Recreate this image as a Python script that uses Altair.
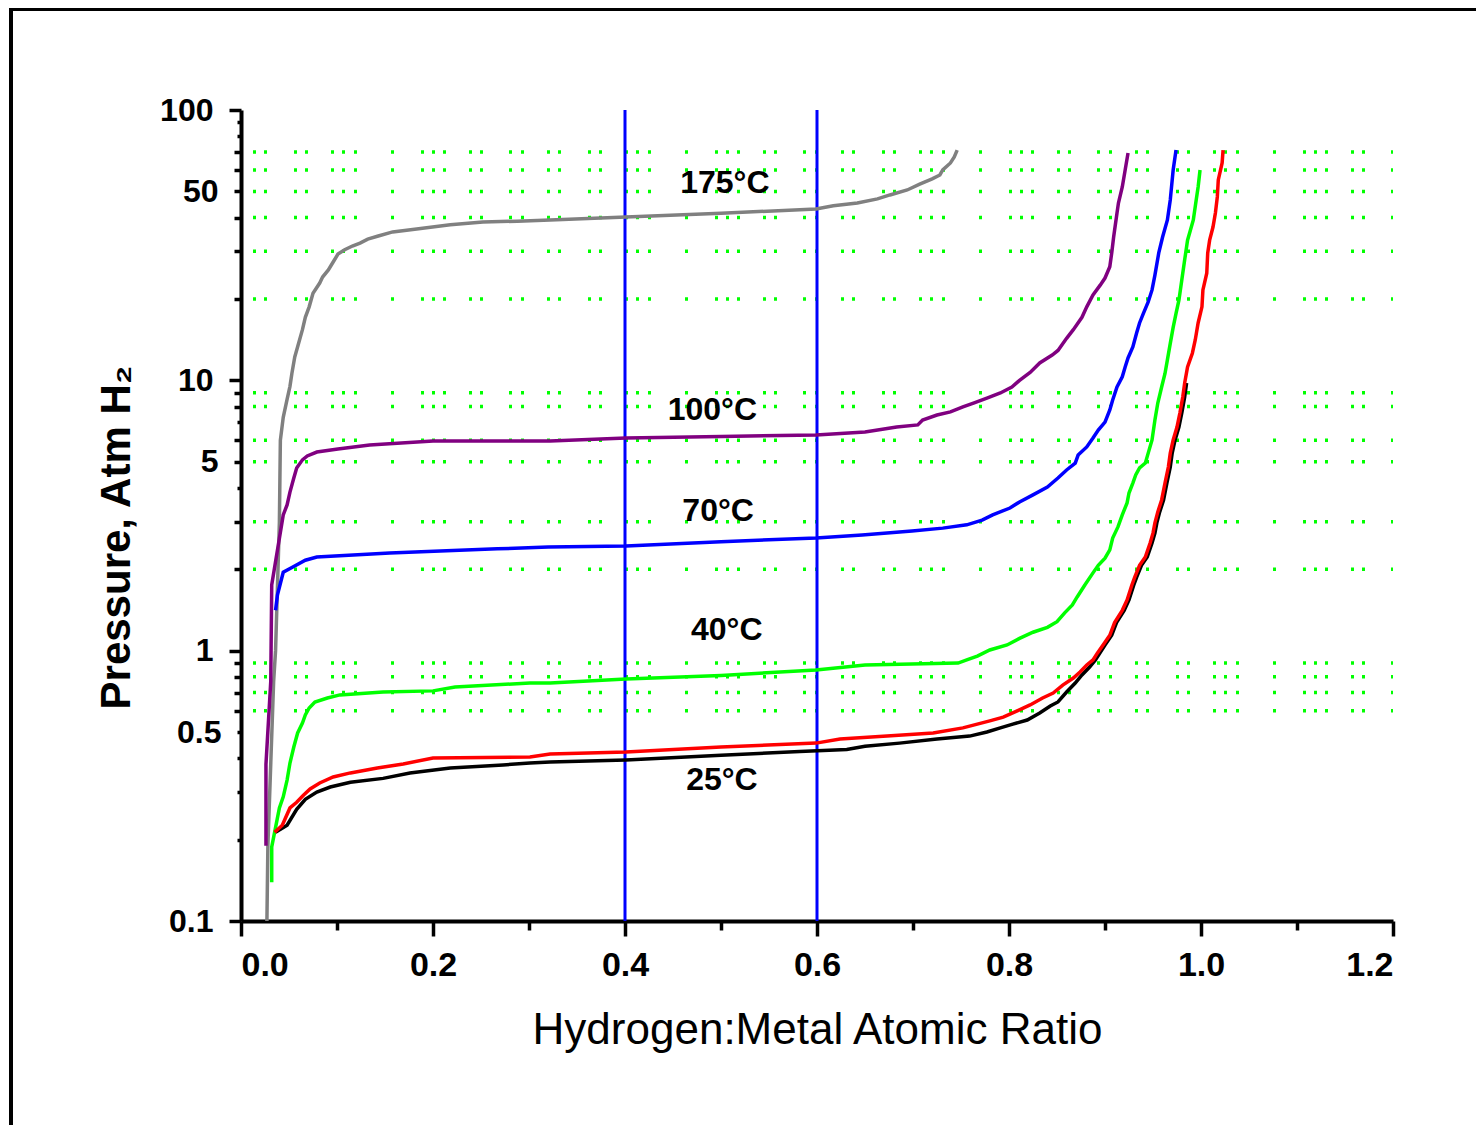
import altair as alt
import pandas as pd

# ---------------- data ----------------
gray_x = [0.027, 0.028, 0.034, 0.036, 0.040, 0.041, 0.044, 0.048, 0.051, 0.053,
          0.056, 0.059, 0.064, 0.067, 0.071, 0.075, 0.082, 0.085, 0.091, 0.096,
          0.101, 0.108, 0.116, 0.124, 0.132, 0.143, 0.158, 0.183, 0.218, 0.252,
          0.288, 0.322, 0.401, 0.500, 0.599, 0.617, 0.642, 0.663, 0.676, 0.694,
          0.707, 0.720, 0.728, 0.731, 0.739, 0.743, 0.746]
gray_p = [0.10, 0.19, 0.77, 1.0, 3.0, 6.0, 7.3, 8.5, 9.5, 10.6,
          12.2, 13.3, 15.4, 17.1, 18.7, 21.0, 22.9, 24.1, 25.6, 27.4,
          29.3, 30.4, 31.4, 32.2, 33.3, 34.2, 35.4, 36.3, 37.6, 38.5,
          38.8, 39.2, 40.2, 41.5, 43.0, 44.2, 45.3, 46.9, 48.5, 50.6,
          53.2, 55.6, 57.5, 60.0, 63.7, 67.0, 71.1]

purple_x = [0.026, 0.026, 0.031, 0.032, 0.044, 0.048, 0.051, 0.055, 0.058, 0.064,
            0.069, 0.079, 0.101, 0.134, 0.200, 0.322, 0.401, 0.500, 0.599, 0.650,
            0.683, 0.705, 0.710, 0.725, 0.739, 0.752, 0.763, 0.777, 0.791, 0.803,
            0.811, 0.822, 0.832, 0.845, 0.851, 0.860, 0.867, 0.876, 0.881, 0.8875,
            0.895, 0.900, 0.905, 0.907, 0.909, 0.9125, 0.914, 0.918, 0.921, 0.924]
purple_p = [0.19, 0.38, 0.77, 1.75, 3.18, 3.46, 3.86, 4.35, 4.74, 5.08,
            5.25, 5.43, 5.57, 5.77, 5.97, 5.97, 6.12, 6.2, 6.28, 6.44,
            6.72, 6.84, 7.13, 7.44, 7.64, 7.97, 8.24, 8.60, 8.98, 9.45,
            10.0, 10.7, 11.6, 12.4, 12.9, 14.3, 15.4, 17.1, 18.7, 20.7,
            22.5, 23.9, 26.3, 29.6, 33.9, 41.6, 45.3, 51.9, 60.0, 69.3]

blue_x = [0.036, 0.038, 0.044, 0.054, 0.067, 0.079, 0.155, 0.267, 0.320, 0.401,
          0.500, 0.599, 0.647, 0.699, 0.731, 0.756, 0.772, 0.783, 0.801, 0.811,
          0.825, 0.840, 0.851, 0.860, 0.869, 0.872, 0.881, 0.8875, 0.893, 0.900,
          0.905, 0.908, 0.9125, 0.918, 0.921, 0.924, 0.929, 0.933, 0.936, 0.940,
          0.945, 0.949, 0.952, 0.956, 0.960, 0.965, 0.968, 0.971, 0.974]
blue_p = [1.41, 1.61, 1.95, 2.04, 2.16, 2.22, 2.30, 2.38, 2.42, 2.44,
          2.53, 2.61, 2.68, 2.77, 2.84, 2.92, 3.04, 3.18, 3.37, 3.55,
          3.77, 4.03, 4.35, 4.66, 4.94, 5.29, 5.67, 6.12, 6.55, 7.01,
          7.77, 8.46, 9.45, 10.3, 11.2, 12.1, 13.3, 15.0, 16.3, 17.7,
          19.5, 21.6, 24.5, 29.6, 33.9, 39.2, 46.5, 60.0, 71.1]

green_x = [0.032, 0.032, 0.0375, 0.040, 0.044, 0.048, 0.051, 0.055, 0.059, 0.064,
           0.067, 0.071, 0.077, 0.090, 0.103, 0.148, 0.200, 0.223, 0.301, 0.322,
           0.401, 0.500, 0.599, 0.650, 0.747, 0.756, 0.767, 0.780, 0.798, 0.811,
           0.825, 0.840, 0.850, 0.858, 0.866, 0.871, 0.879, 0.8875, 0.893, 0.900,
           0.905, 0.908, 0.9135, 0.918, 0.923, 0.925, 0.929, 0.932, 0.936, 0.942,
           0.945, 0.949, 0.952, 0.955, 0.959, 0.9625, 0.965, 0.968, 0.971, 0.974,
           0.977, 0.980, 0.983, 0.986, 0.992, 0.995, 0.997, 0.999]
green_p = [0.139, 0.188, 0.236, 0.262, 0.288, 0.332, 0.384, 0.440, 0.496, 0.540,
           0.578, 0.614, 0.646, 0.668, 0.686, 0.703, 0.710, 0.734, 0.759, 0.759,
           0.785, 0.81, 0.848, 0.885, 0.900, 0.924, 0.955, 1.006, 1.05, 1.11,
           1.17, 1.22, 1.28, 1.38, 1.476, 1.58, 1.75, 1.94, 2.07, 2.20,
           2.36, 2.61, 2.87, 3.18, 3.52, 3.83, 4.17, 4.47, 4.74, 4.94,
           5.38, 6.02, 7.13, 8.24, 9.45, 10.6, 11.9, 13.7, 15.7, 17.7,
           19.8, 23.5, 27.9, 33.0, 39.2, 46.5, 51.9, 60.0]

black_x = [0.036, 0.048, 0.058, 0.067, 0.079, 0.093, 0.114, 0.148, 0.176, 0.218,
           0.273, 0.301, 0.322, 0.401, 0.500, 0.582, 0.631, 0.650, 0.686, 0.725,
           0.759, 0.777, 0.791, 0.804, 0.819, 0.832, 0.843, 0.851, 0.860, 0.869,
           0.876, 0.884, 0.890, 0.900, 0.907, 0.912, 0.920, 0.925, 0.930, 0.933,
           0.938, 0.944, 0.949, 0.952, 0.954, 0.957, 0.961, 0.9645, 0.968, 0.970,
           0.973, 0.977, 0.980, 0.983, 0.985]
black_p = [0.213, 0.226, 0.259, 0.282, 0.300, 0.313, 0.326, 0.337, 0.353, 0.368,
           0.378, 0.384, 0.387, 0.394, 0.41, 0.424, 0.431, 0.443, 0.455, 0.471,
           0.483, 0.50, 0.518, 0.535, 0.554, 0.588, 0.624, 0.646, 0.703, 0.759,
           0.813, 0.870, 0.924, 1.05, 1.14, 1.27, 1.41, 1.54, 1.75, 1.87,
           2.07, 2.22, 2.50, 2.72, 2.97, 3.26, 3.61, 4.17, 4.78, 5.38,
           6.02, 6.72, 7.57, 8.68, 9.78]

red_x = [0.035, 0.043, 0.051, 0.058, 0.065, 0.072, 0.082, 0.096, 0.114, 0.142,
         0.169, 0.200, 0.301, 0.322, 0.401, 0.500, 0.599, 0.624, 0.673, 0.721,
         0.752, 0.767, 0.780, 0.794, 0.808, 0.822, 0.835, 0.846, 0.856, 0.867,
         0.874, 0.881, 0.8875, 0.892, 0.898, 0.905, 0.910, 0.918, 0.923, 0.928,
         0.931, 0.936, 0.942, 0.947, 0.950, 0.952, 0.955, 0.959, 0.9625, 0.966,
         0.968, 0.971, 0.975, 0.978, 0.981, 0.983, 0.986, 0.991, 0.994, 0.997,
         1.001, 1.002, 1.006, 1.007, 1.009, 1.0125, 1.015, 1.017, 1.018, 1.022,
         1.023]
red_p = [0.213, 0.226, 0.262, 0.275, 0.292, 0.308, 0.324, 0.341, 0.353, 0.368,
         0.381, 0.401, 0.404, 0.415, 0.422, 0.44, 0.455, 0.471, 0.483, 0.496,
         0.518, 0.535, 0.550, 0.568, 0.598, 0.630, 0.668, 0.697, 0.746, 0.792,
         0.834, 0.885, 0.924, 0.979, 1.05, 1.14, 1.27, 1.41, 1.54, 1.75,
         1.87, 2.07, 2.22, 2.50, 2.72, 2.97, 3.26, 3.61, 4.17, 4.78,
         5.38, 6.02, 6.72, 7.57, 8.68, 9.78, 11.2, 12.6, 14.1, 16.3,
         18.7, 21.6, 24.9, 29.6, 33.0, 36.9, 41.6, 47.7, 55.1, 63.7,
         71.1]

series_names = ["175C", "100C", "70C", "40C", "25C desorption", "25C absorption"]
series_x = [gray_x, purple_x, blue_x, green_x, black_x, red_x]
series_p = [gray_p, purple_p, blue_p, green_p, black_p, red_p]
series_colors = ["#808080", "#800080", "#0000FF", "#00FF00", "#000000", "#FF0000"]

label_text = ["175°C", "100°C", "70°C", "40°C", "25°C"]
label_x = [0.504, 0.491, 0.497, 0.506, 0.501]
label_p = [53.7, 7.77, 3.29, 1.19, 0.332]

grid_p = [70, 60, 50, 40, 30, 20, 9, 8, 6, 5, 3, 2, 0.9, 0.8, 0.7, 0.6]
marker_x = [0.4, 0.6]

y_tick_values = [0.1, 0.2, 0.3, 0.4, 0.5, 0.6, 0.7, 0.8, 0.9,
                 1, 2, 3, 4, 5, 6, 7, 8, 9,
                 10, 20, 30, 40, 50, 60, 70, 80, 90, 100]
y_label_values = [100, 50, 10, 5, 1, 0.5, 0.1]
y_major = [0.1, 1, 10, 100]
x_tick_values = [0.0, 0.1, 0.2, 0.3, 0.4, 0.5, 0.6, 0.7, 0.8, 0.9, 1.0, 1.1, 1.2]
x_label_values = [0.0, 0.2, 0.4, 0.6, 0.8, 1.0, 1.2]

FONT = "Liberation Sans"

# irregular dotted pattern of the green grid rows (rules are stroked right to left)
GRID_DASH = [0, 23, 3, 9, 3, 26, 3, 8, 3, 23, 3, 8, 3, 8, 3, 27, 3, 34,
             3, 9, 3, 8, 3, 23, 3, 8, 3, 27, 3, 8, 3, 0]
GRID_DASH_OFFSET = 36


def js_list(vals):
    return "[" + ",".join(repr(float(v)) for v in vals) + "]"


y_label_expr = ("indexof(" + js_list(y_label_values) + ", datum.value) >= 0 ? "
                "toString(datum.value) : ''")
y_tick_cond = {
    "condition": [
        {"test": "indexof(" + js_list(y_major) + ", datum.value) >= 0", "value": 12},
        {"test": "indexof(" + js_list(grid_p) + ", datum.value) >= 0", "value": 7},
    ],
    "value": 4,
}
x_label_expr = ("indexof(" + js_list(x_label_values) + ", datum.value) >= 0 ? "
                "format(datum.value, '.1f') : ''")
x_tick_cond = {
    "condition": {"test": "indexof(" + js_list(x_label_values) + ", datum.value) >= 0",
                  "value": 15},
    "value": 9,
}

x_enc = alt.X(
    "x:Q",
    scale=alt.Scale(domain=[0, 1.2], nice=False, zero=False),
    axis=alt.Axis(
        values=x_tick_values, labelExpr=x_label_expr, tickSize=x_tick_cond,
        tickWidth=3.5, tickColor="black", domainColor="black", domainWidth=4,
        labelFont=FONT, labelFontSize=34, labelFontWeight="bold", labelColor="black",
        labelPadding=12, labelOverlap=False, grid=False,
        title="Hydrogen:Metal Atomic Ratio", titleFont=FONT, titleFontSize=44,
        titleFontWeight="normal", titleColor="black", titleBaseline="alphabetic",
        titleY=122,
    ),
)
y_enc = alt.Y(
    "p:Q",
    scale=alt.Scale(type="log", domain=[0.1, 100], nice=False),
    axis=alt.Axis(
        values=y_tick_values, labelExpr=y_label_expr, tickSize=y_tick_cond,
        tickWidth=3.5, tickColor="black", domainColor="black", domainWidth=4,
        labelFont=FONT, labelFontSize=32, labelFontWeight="bold", labelColor="black",
        labelPadding=16, labelOverlap=False, grid=False,
        title="Pressure, Atm H₂", titleFont=FONT, titleFontSize=42,
        titleFontWeight="bold", titleColor="black", titleBaseline="alphabetic",
        titleX=-112, titleY=427, titleAngle=270,
    ),
)

layers = []

grid_df = pd.DataFrame({"p": grid_p})
layers.append(
    alt.Chart(grid_df).mark_rule(color="#00FF00", strokeWidth=3.5,
                                 strokeDash=GRID_DASH, strokeDashOffset=GRID_DASH_OFFSET)
    .encode(y=y_enc)
)

marker_df = pd.DataFrame({"x": marker_x})
layers.append(
    alt.Chart(marker_df).mark_rule(color="#0000FF", strokeWidth=3).encode(x=x_enc)
)

for name, xs, ps, col in zip(series_names, series_x, series_p, series_colors):
    df = pd.DataFrame({"x": xs, "p": ps, "idx": list(range(len(xs)))})
    layers.append(
        alt.Chart(df).mark_line(color=col, strokeWidth=3.5, strokeJoin="miter")
        .encode(x=x_enc, y=y_enc, order="idx:Q")
    )

lab_df = pd.DataFrame({"x": label_x, "p": label_p, "t": label_text})
layers.append(
    alt.Chart(lab_df).mark_text(font=FONT, fontSize=32, fontWeight="bold",
                                color="black", align="center", baseline="middle")
    .encode(x=x_enc, y=y_enc, text="t:N")
)

frame_df = pd.DataFrame({"f": [0]})
layers.append(
    alt.Chart(frame_df).mark_rect(fillOpacity=0, stroke="black", strokeWidth=4)
    .encode(x=alt.value(-230), x2=alt.value(1260), y=alt.value(-101), y2=alt.value(1040))
)

chart = (
    alt.layer(*layers)
    .properties(
        width=1152, height=811,
        autosize=alt.AutoSizeParams(type="none"),
        padding={"left": 233, "top": 102, "right": 83, "bottom": 204},
        background="white",
    )
    .configure_view(strokeWidth=0)
)

chart.save("out.html", embed_options={"renderer": "svg", "actions": False})
